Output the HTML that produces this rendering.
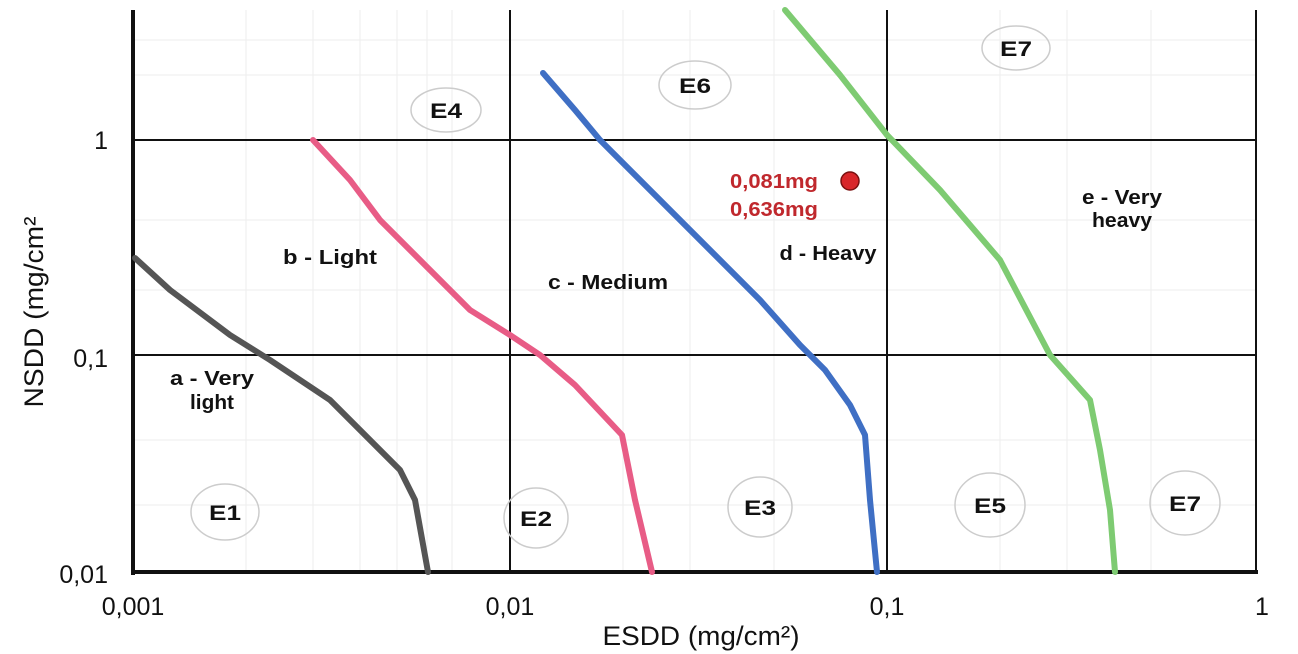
<!DOCTYPE html>
<html><head><meta charset="utf-8"><style>
html,body{margin:0;padding:0;background:#fff;}
svg{display:block;font-family:"Liberation Sans",Arial,sans-serif;}
</style></head><body>
<svg width="1298" height="654" viewBox="0 0 1298 654" xmlns="http://www.w3.org/2000/svg">
<rect width="1298" height="654" fill="#fff"/>
<g stroke="#eee" stroke-width="1">
<line x1="246" y1="10" x2="246" y2="572"/><line x1="313" y1="10" x2="313" y2="572"/><line x1="360" y1="10" x2="360" y2="572"/><line x1="397" y1="10" x2="397" y2="572"/><line x1="427" y1="10" x2="427" y2="572"/><line x1="452" y1="10" x2="452" y2="572"/><line x1="623" y1="10" x2="623" y2="572"/><line x1="690" y1="10" x2="690" y2="572"/><line x1="774" y1="10" x2="774" y2="572"/><line x1="1000" y1="10" x2="1000" y2="572"/><line x1="1067" y1="10" x2="1067" y2="572"/><line x1="1151" y1="10" x2="1151" y2="572"/>
<line x1="133" y1="40" x2="1256" y2="40"/><line x1="133" y1="75" x2="1256" y2="75"/><line x1="133" y1="220" x2="1256" y2="220"/><line x1="133" y1="290" x2="1256" y2="290"/><line x1="133" y1="440" x2="1256" y2="440"/><line x1="133" y1="505" x2="1256" y2="505"/>
</g>
<g stroke="#111" fill="none">
<line x1="510" y1="10" x2="510" y2="572" stroke-width="2"/>
<line x1="887" y1="10" x2="887" y2="572" stroke-width="2"/>
<line x1="1256" y1="10" x2="1256" y2="572" stroke-width="2"/>
<line x1="133" y1="140" x2="1256" y2="140" stroke-width="2"/>
<line x1="133" y1="355" x2="1256" y2="355" stroke-width="2"/>
<line x1="133" y1="10" x2="133" y2="575" stroke-width="4"/>
<line x1="131" y1="572" x2="1258" y2="572" stroke-width="4"/>
</g>
<g fill="none" stroke-width="6" stroke-linejoin="round" stroke-linecap="round">
<polyline stroke="#555" points="135,258 170,290 230,335 270,360 330,400 370,440 400,470 415,500 428,572"/>
<polyline stroke="#e85c86" points="313,140 350,180 380,220 430,270 470,310 510,335 540,355 575,385 622,435 635,500 652,572"/>
<polyline stroke="#3f6fc4" points="543,73 575,110 600,140 640,180 700,240 760,300 800,345 825,370 850,405 865,435 870,500 877,572"/>
<polyline stroke="#7ecb72" points="785,10 840,75 887,135 940,190 1000,260 1050,355 1090,400 1100,450 1110,510 1115,572"/>
</g>
<g fill="none" stroke="#ccc" stroke-width="1.5">
<ellipse cx="446" cy="110" rx="35" ry="22"/><ellipse cx="695" cy="85" rx="36" ry="24"/><ellipse cx="1016" cy="48" rx="34" ry="22"/>
<ellipse cx="225" cy="512" rx="34" ry="28"/><ellipse cx="536" cy="518" rx="32" ry="30"/><ellipse cx="760" cy="507" rx="32" ry="30"/><ellipse cx="990" cy="505" rx="35" ry="32"/><ellipse cx="1185" cy="503" rx="35" ry="32"/>
</g>
<g font-weight="bold" font-size="21" fill="#111" text-anchor="middle">
<text x="446" y="118" textLength="32" lengthAdjust="spacingAndGlyphs">E4</text>
<text x="695" y="93" textLength="32" lengthAdjust="spacingAndGlyphs">E6</text>
<text x="1016" y="56" textLength="32" lengthAdjust="spacingAndGlyphs">E7</text>
<text x="225" y="520" textLength="32" lengthAdjust="spacingAndGlyphs">E1</text>
<text x="536" y="526" textLength="32" lengthAdjust="spacingAndGlyphs">E2</text>
<text x="760" y="515" textLength="32" lengthAdjust="spacingAndGlyphs">E3</text>
<text x="990" y="513" textLength="32" lengthAdjust="spacingAndGlyphs">E5</text>
<text x="1185" y="511" textLength="32" lengthAdjust="spacingAndGlyphs">E7</text>
</g>
<g font-weight="bold" font-size="20" fill="#111" text-anchor="middle">
<text x="330" y="264" textLength="94" lengthAdjust="spacingAndGlyphs">b - Light</text>
<text x="212" y="385" textLength="84" lengthAdjust="spacingAndGlyphs">a - Very</text>
<text x="212" y="409" textLength="44" lengthAdjust="spacingAndGlyphs">light</text>
<text x="608" y="289" textLength="120" lengthAdjust="spacingAndGlyphs">c - Medium</text>
<text x="828" y="260" textLength="97" lengthAdjust="spacingAndGlyphs">d - Heavy</text>
<text x="1122" y="204" textLength="80" lengthAdjust="spacingAndGlyphs">e - Very</text>
<text x="1122" y="227" textLength="60" lengthAdjust="spacingAndGlyphs">heavy</text>
</g>
<g font-weight="bold" font-size="20" fill="#c0282d" text-anchor="end">
<text x="818" y="188" textLength="88" lengthAdjust="spacingAndGlyphs">0,081mg</text>
<text x="818" y="216" textLength="88" lengthAdjust="spacingAndGlyphs">0,636mg</text>
</g>
<circle cx="850" cy="181" r="9" fill="#d8262a" stroke="#7a1010" stroke-width="1.5"/>
<g font-size="25" fill="#111">
<text x="108" y="149" text-anchor="end">1</text>
<text x="108" y="367" text-anchor="end">0,1</text>
<text x="108" y="583" text-anchor="end">0,01</text>
<text x="133" y="615" text-anchor="middle">0,001</text>
<text x="510" y="615" text-anchor="middle">0,01</text>
<text x="887" y="615" text-anchor="middle">0,1</text>
<text x="1262" y="615" text-anchor="middle">1</text>
</g>
<g font-size="27" fill="#111">
<text x="701" y="645" text-anchor="middle" textLength="197" lengthAdjust="spacingAndGlyphs">ESDD (mg/cm²)</text>
<text transform="translate(43,312) rotate(-90)" text-anchor="middle" textLength="191" lengthAdjust="spacingAndGlyphs">NSDD (mg/cm²</text>
</g>
</svg>
</body></html>
